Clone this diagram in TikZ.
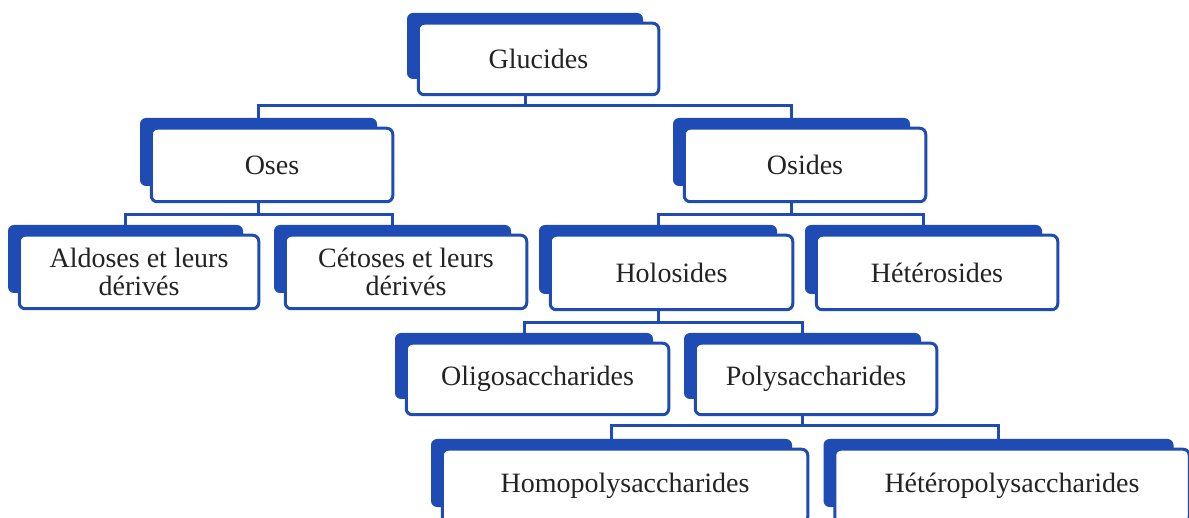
\documentclass[tikz,border=0pt]{standalone}
\usepackage{fontspec}
\setmainfont{Liberation Serif}
\definecolor{sablue}{RGB}{30,76,180}
\definecolor{txt}{RGB}{35,35,35}
\tikzset{
  frontbox/.style={draw=sablue, line width=3pt, fill=white, rounded corners=6pt,
    inner sep=0pt, text=txt, font=\fontsize{28}{28.5}\selectfont, align=center},
  backbox/.style={fill=sablue, rounded corners=6pt, inner sep=0pt},
  conn/.style={draw=sablue, line width=3pt}
}
\newcommand\orgbox[6]{%
  \node[backbox, minimum width=#4pt-5pt, minimum height=#5pt-6pt] (#1b) at (#2-13.5,#3-13) {};
  \node[frontbox, minimum width=#4pt-0.5pt, minimum height=#5pt-0.5pt] (#1) at (#2,#3) {#6};
}
\begin{document}
\begin{tikzpicture}[x=1pt,y=-1pt]
\useasboundingbox (0,0) rectangle (1189,518);
\clip (0,0) rectangle (1189,518);
\fill[white] (0,0) rectangle (1189,518);
\orgbox{glu}{538.5}{59}{241}{72}{Glucides}
\orgbox{oses}{272}{165}{242}{74}{Oses}
\orgbox{osides}{805}{165}{242}{74}{Osides}
\orgbox{ald}{139}{272}{240}{74}{Aldoses et leurs\\dérivés}
\orgbox{cet}{406}{272}{242}{74}{Cétoses et leurs\\dérivés}
\orgbox{holo}{671.5}{272.5}{243}{75}{Holosides}
\orgbox{hetero}{937}{272.5}{242}{75}{Hétérosides}
\orgbox{oligo}{537.5}{379}{263}{72}{Oligosaccharides}
\orgbox{poly}{816}{379}{242}{72}{Polysaccharides}
\orgbox{homo}{625}{486}{366}{74}{Homopolysaccharides}
\orgbox{hpoly}{1012}{486}{355}{74}{Hétéropolysaccharides}
\draw[conn] (glu.south -| glub.center) -- ++(0,9) -| (osesb.north);
\draw[conn] (glu.south -| glub.center) -- ++(0,9) -| (osidesb.north);
\draw[conn] (oses.south -| osesb.center) -- ++(0,11) -| (aldb.north);
\draw[conn] (oses.south -| osesb.center) -- ++(0,11) -| (cetb.north);
\draw[conn] (osides.south -| osidesb.center) -- ++(0,11) -| (holob.north);
\draw[conn] (osides.south -| osidesb.center) -- ++(0,11) -| (heterob.north);
\draw[conn] (holo.south -| holob.center) -- ++(0,11) -| (oligob.north);
\draw[conn] (holo.south -| holob.center) -- ++(0,11) -| (polyb.north);
\draw[conn] (poly.south -| polyb.center) -- ++(0,9) -| (homob.north);
\draw[conn] (poly.south -| polyb.center) -- ++(0,9) -| (hpolyb.north);
\end{tikzpicture}
\end{document}
